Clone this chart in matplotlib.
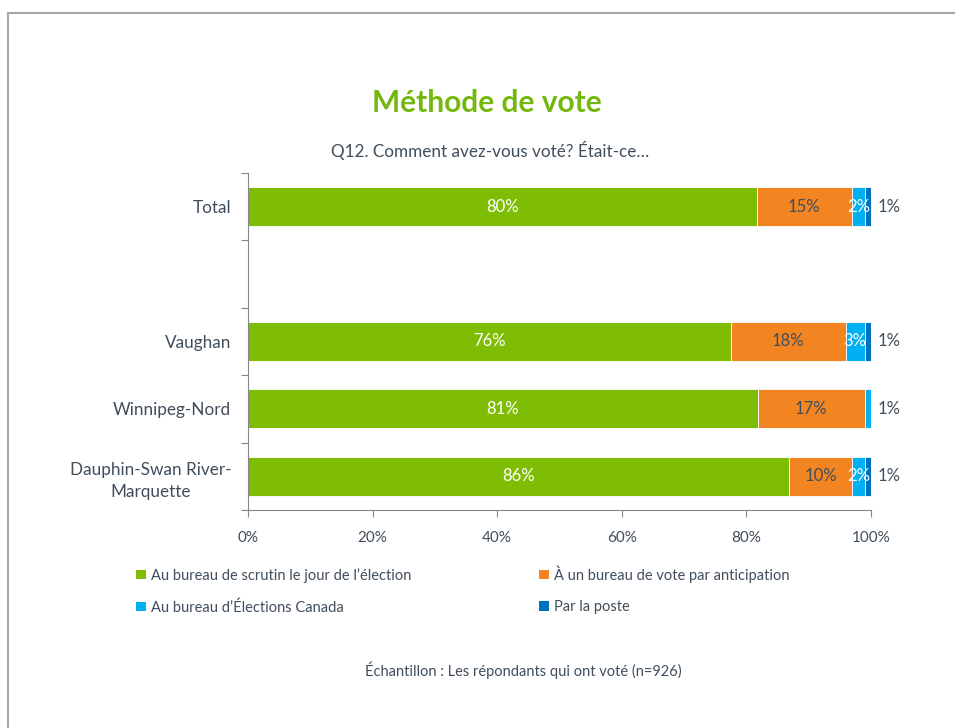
import matplotlib.pyplot as plt
from matplotlib.patches import Patch
from matplotlib.lines import Line2D
import numpy as np

plt.rcParams['font.family'] = ['Lato', 'DejaVu Sans']

categories = ['Total', '', 'Vaughan', 'Winnipeg-Nord', 'Dauphin-Swan River-\nMarquette']
series = ['Au bureau de scrutin le jour de l\u2019élection',
          'À un bureau de vote par anticipation',
          'Au bureau d\u2019Élections Canada',
          'Par la poste']
jour = [80, 0, 76, 81, 86]
anticipation = [15, 0, 18, 17, 10]
elections_canada = [2, 0, 3, 1, 2]
poste = [1, 0, 1, 0, 1]

colors = ['#7fbd04', '#f28522', '#00b0f0', '#0070c0']
text_col = '#404e5c'
label_colors = ['white', text_col, 'white', text_col]

data = np.array([jour, anticipation, elections_canada, poste], dtype=float)
totals = data.sum(axis=0)
totals[totals == 0] = 1
share = data / totals * 100

fig = plt.figure(figsize=(9.55, 7.28), dpi=100)
ax = fig.add_axes([248 / 955, 1 - 510 / 728, 623 / 955, 337 / 728])

y = np.arange(len(categories))
left = np.zeros(len(categories))
for i in range(len(series)):
    ax.barh(y, share[i], left=left, height=0.58, color=colors[i],
            edgecolor='white', linewidth=0.6)
    for j in range(len(categories)):
        v = data[i, j]
        if v == 0:
            continue
        cx = left[j] + share[i, j] / 2
        # the last tiny segment gets its label outside the bar
        last = i == len(series) - 1 or data[i + 1:, j].sum() == 0
        if last and v <= 1:
            ax.text(101, y[j], f'{v:.0f}%', ha='left', va='center',
                    color=text_col, fontsize=12)
        else:
            ax.text(cx, y[j], f'{v:.0f}%', ha='center', va='center',
                    color=label_colors[i], fontsize=12)
    left += share[i]

ax.set_xlim(0, 100)
ax.set_ylim(4.5, -0.5)
ax.set_xticks(np.arange(0, 101, 20))
ax.set_xticklabels([f'{t}%' for t in range(0, 101, 20)])
ax.set_yticks(np.arange(-0.5, 4.6, 1))
ax.set_yticklabels([])
ax.set_yticks(y, minor=True)
ax.set_yticklabels(categories, minor=True, fontsize=12.3, color=text_col,
                   ha='right', multialignment='center', linespacing=1.45)
ax.tick_params(axis='y', which='minor', length=0, pad=12)
ax.tick_params(axis='y', which='major', length=5, color='#868686', direction='out')
ax.tick_params(axis='x', length=5, color='#868686', labelsize=11,
               labelcolor=text_col, pad=10)
for s in ['top', 'right']:
    ax.spines[s].set_visible(False)
for s in ['left', 'bottom']:
    ax.spines[s].set_color('#868686')
    ax.spines[s].set_linewidth(0.8)

fig.text(0.51, 1 - 103 / 728, 'Méthode de vote', ha='center', va='center',
         fontsize=21.5, fontweight='bold', color='#74b80f')
fig.text(0.513, 1 - 150 / 728, 'Q12. Comment avez-vous voté? Était-ce\u2026',
         ha='center', va='center', fontsize=12.3, color=text_col)
fig.text(0.548, 1 - 670 / 728, 'Échantillon : Les répondants qui ont voté (n=926)',
         ha='center', va='center', fontsize=10.5, color=text_col)

handles = [Patch(facecolor=c, edgecolor='none') for c in colors]
fig.legend([handles[0], handles[2], handles[1], handles[3]],
           [series[0], series[2], series[1], series[3]],
           ncol=2, loc='upper left', bbox_to_anchor=(123 / 955, 1 - 552 / 728),
           frameon=False, fontsize=10.5, handlelength=0.65, handleheight=0.65,
           handletextpad=0.35, columnspacing=8.8, labelspacing=1.2,
           labelcolor=text_col)

fig.add_artist(Line2D([7.5 / 955, 7.5 / 955], [0, 1 - 12.5 / 728],
                      transform=fig.transFigure, color='#a6a6a6', linewidth=1.5))
fig.add_artist(Line2D([7.5 / 955, 1], [1 - 12.5 / 728, 1 - 12.5 / 728],
                      transform=fig.transFigure, color='#a6a6a6', linewidth=1.5))

fig.savefig('out.png', dpi=100)
